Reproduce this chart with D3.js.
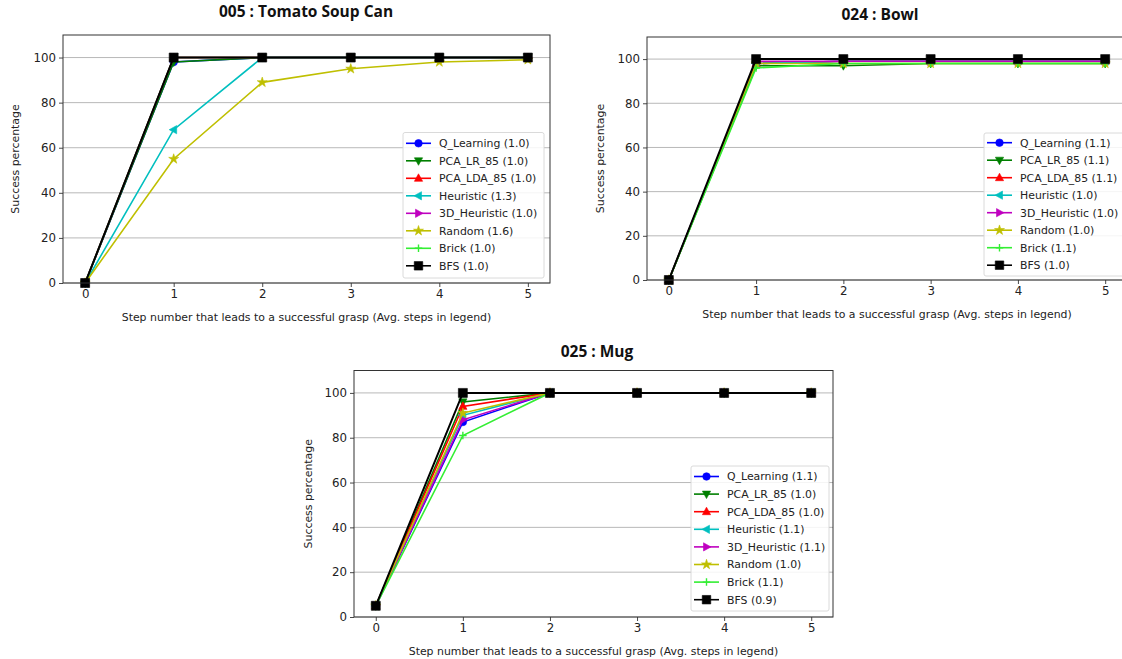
<!DOCTYPE html>
<html>
<head>
<meta charset="utf-8">
<script src="https://d3js.org/d3.v7.min.js"></script>
<style>
  body { margin: 0; background: #fff; }
  svg { display: block; }
</style>
</head>
<body>
<svg id="chart" width="1122" height="659"></svg>
<script>
// ---------- data ----------
const steps = [0, 1, 2, 3, 4, 5];
const xTicks = [0, 1, 2, 3, 4, 5];
const yTicks = [0, 20, 40, 60, 80, 100];
const methods = ["Q_Learning", "PCA_LR_85", "PCA_LDA_85", "Heuristic", "3D_Heuristic", "Random", "Brick", "BFS"];

const titles = ["005 : Tomato Soup Can", "024 : Bowl", "025 : Mug"];

// 005 : Tomato Soup Can
const soupQLearning  = [0, 98, 100, 100, 100, 100];
const soupPcaLr      = [0, 98, 100, 100, 100, 100];
const soupPcaLda     = [0, 100, 100, 100, 100, 100];
const soupHeuristic  = [0, 68, 100, 100, 100, 100];
const soup3dHeur     = [0, 100, 100, 100, 100, 100];
const soupRandom     = [0, 55, 89, 95, 98, 99];
const soupBrick      = [0, 100, 100, 100, 100, 100];
const soupBfs        = [0, 100, 100, 100, 100, 100];
const soupAvg        = ["1.0", "1.0", "1.0", "1.3", "1.0", "1.6", "1.0", "1.0"];

// 024 : Bowl
const bowlQLearning  = [0, 98, 99, 99, 99, 99];
const bowlPcaLr      = [0, 97, 97, 98, 98, 98];
const bowlPcaLda     = [0, 98, 99, 99, 99, 99];
const bowlHeuristic  = [0, 98, 99, 99, 99, 99];
const bowl3dHeur     = [0, 99, 99, 99, 99, 99];
const bowlRandom     = [0, 98, 98, 98, 98, 98];
const bowlBrick      = [0, 96, 98, 98, 98, 98];
const bowlBfs        = [0, 100, 100, 100, 100, 100];
const bowlAvg        = ["1.1", "1.1", "1.1", "1.0", "1.0", "1.0", "1.1", "1.0"];

// 025 : Mug
const mugQLearning   = [5, 87, 100, 100, 100, 100];
const mugPcaLr       = [5, 96, 100, 100, 100, 100];
const mugPcaLda      = [5, 94, 100, 100, 100, 100];
const mugHeuristic   = [5, 90, 100, 100, 100, 100];
const mug3dHeur      = [5, 88, 100, 100, 100, 100];
const mugRandom      = [5, 91, 100, 100, 100, 100];
const mugBrick       = [5, 81, 100, 100, 100, 100];
const mugBfs         = [5, 100, 100, 100, 100, 100];
const mugAvg         = ["1.1", "1.0", "1.0", "1.1", "1.1", "1.0", "1.1", "0.9"];

const xLabel = "Step number that leads to a successful grasp (Avg. steps in legend)";
const yLabel = "Success percentage";

// ---------- styles ----------
const colors  = ["#0000ff", "#007f00", "#ff0000", "#00bfbf", "#bf00bf", "#bfbf00", "#33ee33", "#000000"];
const symbols = ["circle", "down", "up", "left", "right", "star", "plus", "square"];

const panels = [
  { title: titles[0], series: [soupQLearning, soupPcaLr, soupPcaLda, soupHeuristic, soup3dHeur, soupRandom, soupBrick, soupBfs], avg: soupAvg,
    box: { l: 63, r: 550, t: 35, b: 283 }, titleX: 306, titleY: 17, ylabX: 19, legend: { x: 403, y: 132.5, w: 141, h: 145.5, r0: 143.3, dy: 17.5 } },
  { title: titles[1], series: [bowlQLearning, bowlPcaLr, bowlPcaLda, bowlHeuristic, bowl3dHeur, bowlRandom, bowlBrick, bowlBfs], avg: bowlAvg,
    box: { l: 647, r: 1127, t: 37, b: 280 }, titleX: 880, titleY: 20, ylabX: 604, legend: { x: 984, y: 133, w: 145, h: 143, r0: 142.7, dy: 17.5 } },
  { title: titles[2], series: [mugQLearning, mugPcaLr, mugPcaLda, mugHeuristic, mug3dHeur, mugRandom, mugBrick, mugBfs], avg: mugAvg,
    box: { l: 354, r: 833, t: 370.5, b: 617 }, titleX: 597, titleY: 357, ylabX: 312, legend: { x: 691, y: 466, w: 138, h: 145, r0: 476.5, dy: 17.6 } }
];

const svg = d3.select("#chart");
const tickFont = "DejaVu Sans, sans-serif";

function markerPath(sym, size) {
  const s = size;
  switch (sym) {
    case "circle": return d3.symbol(d3.symbolCircle, s * s * 0.8)();
    case "square": return `M${-s/2},${-s/2}h${s}v${s}h${-s}Z`;
    case "up":     return `M0,${-s*0.6}L${s*0.55},${s*0.4}L${-s*0.55},${s*0.4}Z`;
    case "down":   return `M0,${s*0.6}L${s*0.55},${-s*0.4}L${-s*0.55},${-s*0.4}Z`;
    case "left":   return `M${-s*0.6},0L${s*0.4},${-s*0.55}L${s*0.4},${s*0.55}Z`;
    case "right":  return `M${s*0.6},0L${-s*0.4},${-s*0.55}L${-s*0.4},${s*0.55}Z`;
    case "star":   return d3.symbol(d3.symbolStar, s * s * 0.55)();
    case "plus":   return `M${-s/2},0H${s/2}M0,${-s/2}V${s/2}`;
  }
}

function drawMarker(g, sym, color, x, y, size) {
  const p = g.append("path")
    .attr("d", markerPath(sym, size))
    .attr("transform", `translate(${x},${y})`);
  if (sym === "plus") p.attr("fill", "none").attr("stroke", color).attr("stroke-width", 1.4);
  else p.attr("fill", color).attr("stroke", color).attr("stroke-width", 0.6);
}

panels.forEach((p, pi) => {
  const g = svg.append("g");
  const x = d3.scaleLinear().domain([-0.25, 5.25]).range([p.box.l, p.box.r]);
  const y = d3.scaleLinear().domain([0, 110]).range([p.box.b, p.box.t]);

  const clipId = "clip" + pi;
  svg.append("clipPath").attr("id", clipId).append("rect")
    .attr("x", p.box.l - 6).attr("y", p.box.t - 6)
    .attr("width", p.box.r - p.box.l + 12).attr("height", p.box.b - p.box.t + 12);

  // grid
  g.append("g").selectAll("line").data(yTicks).join("line")
    .attr("x1", p.box.l).attr("x2", p.box.r)
    .attr("y1", d => y(d)).attr("y2", d => y(d))
    .attr("stroke", "#b0b0b0").attr("stroke-width", 0.9);

  // axes
  const xAxis = d3.axisBottom(x).tickValues(xTicks).tickFormat(d3.format("d")).tickSize(4).tickPadding(3);
  const yAxis = d3.axisLeft(y).tickValues(yTicks).tickFormat(d3.format("d")).tickSize(4).tickPadding(3);
  const gx = g.append("g").attr("transform", `translate(0,${p.box.b})`).call(xAxis);
  const gy = g.append("g").attr("transform", `translate(${p.box.l},0)`).call(yAxis);
  [gx, gy].forEach(a => {
    a.select(".domain").remove();
    a.selectAll("line").attr("stroke", "#333").attr("stroke-width", 0.9);
    a.selectAll("text").attr("font-family", tickFont).attr("font-size", 11.8).attr("fill", "#222");
  });

  // lines + markers
  const plot = g.append("g").attr("clip-path", `url(#${clipId})`);
  const line = d3.line().x((d, i) => x(steps[i])).y(d => y(d));
  p.series.forEach((vals, si) => {
    const sg = plot.append("g");
    sg.append("path").datum(vals).attr("d", line)
      .attr("fill", "none").attr("stroke", colors[si]).attr("stroke-width", si === 7 ? 2 : 1.6);
    vals.forEach((v, i) => drawMarker(sg, symbols[si], colors[si], x(steps[i]), y(v), si === 7 ? 9 : 7.5));
  });

  // frame
  g.append("rect")
    .attr("x", p.box.l).attr("y", p.box.t)
    .attr("width", p.box.r - p.box.l).attr("height", p.box.b - p.box.t)
    .attr("fill", "none").attr("stroke", "#333").attr("stroke-width", 1);

  // title
  g.append("text").attr("x", p.titleX).attr("y", p.titleY)
    .attr("text-anchor", "middle").attr("font-family", "Open Sans, sans-serif")
    .attr("font-weight", 700).attr("font-size", 15.5).attr("fill", "#111").text(p.title);

  // axis labels
  g.append("text").attr("x", (x(0) + x(5)) / 2).attr("y", p.box.b + 38)
    .attr("text-anchor", "middle").attr("font-family", tickFont)
    .attr("font-size", 10.9).attr("fill", "#222").text(xLabel);
  g.append("text")
    .attr("transform", `translate(${p.ylabX},${(p.box.t + p.box.b) / 2}) rotate(-90)`)
    .attr("text-anchor", "middle").attr("font-family", tickFont)
    .attr("font-size", 10.9).attr("fill", "#222").text(yLabel);

  // legend
  const L = p.legend;
  const lg = g.append("g");
  lg.append("rect").attr("x", L.x).attr("y", L.y).attr("width", L.w).attr("height", L.h)
    .attr("rx", 2).attr("fill", "#fff").attr("fill-opacity", 0.85)
    .attr("stroke", "#d6d6d6").attr("stroke-width", 0.9);
  methods.forEach((m, i) => {
    const cy = L.r0 + i * L.dy;
    lg.append("line").attr("x1", L.x + 3).attr("x2", L.x + 28).attr("y1", cy).attr("y2", cy)
      .attr("stroke", colors[i]).attr("stroke-width", 1.6);
    drawMarker(lg, symbols[i], colors[i], L.x + 15.5, cy, i === 7 ? 8.5 : 7.5);
    lg.append("text").attr("x", L.x + 36).attr("y", cy).attr("dy", "0.35em")
      .attr("font-family", tickFont).attr("font-size", 10.9).attr("fill", "#222")
      .text(`${m} (${p.avg[i]})`);
  });
});
</script>
</body>
</html>
